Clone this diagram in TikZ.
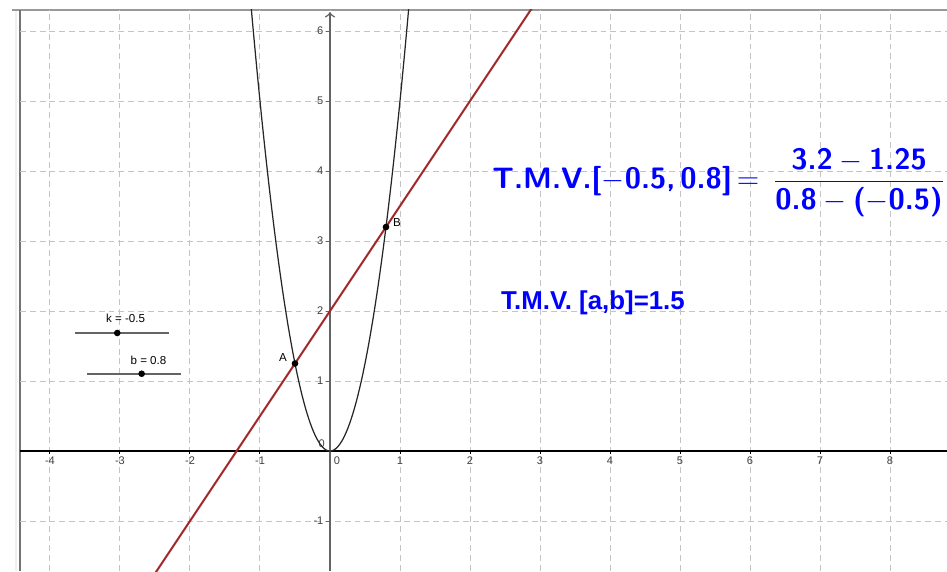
\documentclass[tikz,border=0pt]{standalone}
\usepackage{amsmath}
\usepackage{fontspec}
\newfontfamily\ggbfont{Liberation Sans}
\usepackage{tikz}
\usetikzlibrary{arrows,calc}
\definecolor{ggbred}{RGB}{160,40,40}
\definecolor{ggbgrid}{RGB}{196,196,196}
\definecolor{ggbaxis}{RGB}{100,100,100}

\begin{document}
\begin{tikzpicture}[
  ticklab/.style={font=\ggbfont\fontsize{4.5}{5}\selectfont,text=black!75,inner sep=0.5pt},
  smalllab/.style={font=\ggbfont\fontsize{4.7}{5.5}\selectfont,inner sep=0pt},
  dot/.style={circle,fill=black,inner sep=0pt,minimum size=0.95mm},
  slider/.style={ggbaxis,line width=0.8pt},
  tmvbig/.style={anchor=base west,text=blue,inner sep=0pt,font=\sffamily\bfseries\fontsize{12}{14}\selectfont},
  tmvsmall/.style={anchor=base west,text=blue,inner sep=0pt,font=\ggbfont\bfseries\fontsize{10.5}{12}\selectfont}
]
\useasboundingbox (-4.714,-1.714) rectangle (8.814,6.443);
%\draw[help lines] (-5,-2) grid (9,7);

% frame of the graphics view
\fill[black!6] (-4.5,-1.714) rectangle (-4.471,6.3);
\draw[black!40,line width=0.6pt] (-4.543,6.3) -- (8.814,6.3);
\draw[black!55,line width=0.6pt] (-4.429,6.3) -- (-4.429,-1.714);

% grid
\draw[ggbgrid,dash pattern=on 2.4pt off 1.6pt,line width=0.4pt] (-4.429,-1.714) grid (8.814,6.3);

% axes
\draw[black,line width=0.6pt] (-4.429,0) -- (8.814,0);
\draw[ggbaxis,line width=0.6pt,->] (0,-1.714) -- (0,6.27);
\foreach \x in {-4,-3,-2,-1,1,2,3,4,5,6,7,8}{
  \draw[black,line width=0.4pt] (\x,0) -- (\x,-0.04);
  \node[ticklab,anchor=north] (xl\x) at (\x,-0.06) {\x};
}
\foreach \y in {-1,1,2,3,4,5,6}{
  \draw[ggbaxis,line width=0.4pt] (0,\y) -- (-0.05,\y);
  \node[ticklab,anchor=east] (yl\y) at (-0.07,\y) {\y};
}
\node[ticklab] (ylo) at (-0.12,0.1) {0};
\node[ticklab] (xlo) at (0.1,-0.14) {0};

% f(x)=5x^2 and the secant line
\begin{scope}
\clip (-4.429,-1.714) rectangle (8.814,6.3);
\draw[black!85,line width=0.5pt,domain=-1.16:1.16,samples=120] plot (\x,{5*\x*\x});
\coordinate (lo) at (-2.6,-1.9);
\coordinate (hi) at (3,6.5);
\draw[ggbred,line width=0.8pt] (lo) -- (hi);
\end{scope}

\node[dot] (A) at (-0.5,1.25) {};
\node[dot] (B) at (0.8,3.2) {};
\node[smalllab] (labA) at (-0.671,1.329) {A};
\node[smalllab] (labB) at (0.957,3.271) {B};

% sliders
\coordinate (k0) at (-3.643,1.686);
\coordinate (k1) at (-2.296,1.686);
\draw[slider] (k0) -- (k1);
\node[dot] (kdot) at (-3.039,1.686) {};
\node[smalllab] (klab) at (-2.92,1.9) {k = -0.5};
\coordinate (b0) at (-3.467,1.104);
\coordinate (b1) at (-2.129,1.104);
\draw[slider] (b0) -- (b1);
\node[dot] (bdot) at (-2.69,1.104) {};
\node[smalllab] (blab) at (-2.593,1.3) {b = 0.8};

% texts
\node[tmvbig] (tmv) at (2.314,3.743) {T.M.V.[$-$0.5,\,0.8]$\,=\,\dfrac{\text{3.2}-\text{1.25}}{\text{0.8}-\text{(}{-}\text{0.5)}}$};
\node[tmvsmall] (tmvab) at (2.439,2.024) {T.M.V. [a,b]=1.5};
\end{tikzpicture}
\end{document}
